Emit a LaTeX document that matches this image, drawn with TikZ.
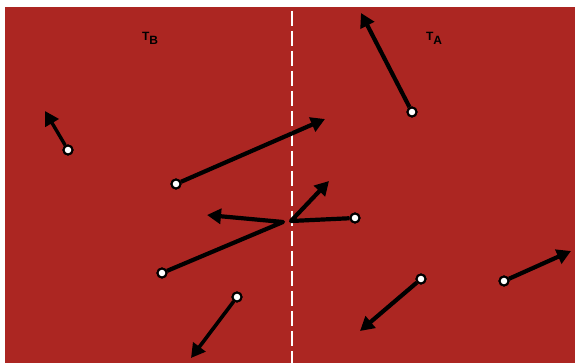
\documentclass[tikz,border=0pt]{standalone}
\usepackage{fontspec}
\setmainfont{Liberation Sans}
\usetikzlibrary{arrows.meta}
\definecolor{bgred}{RGB}{172,38,34}
\tikzset{
  dot/.style={circle,draw=black,fill=white,line width=2pt,inner sep=0pt,minimum size=9pt},
  arr/.style={line width=4.2pt,line join=round,-{Triangle[length=14pt,width=15pt]}},
  lbl/.style={font=\bfseries\fontsize{12}{14}\selectfont,text=black},
  divider/.style={white,line width=1.8pt,dash pattern=on 15pt off 5pt}
}
\begin{document}
\begin{tikzpicture}[x=1pt,y=-1pt]
\useasboundingbox (0,0) rectangle (575,363);
\fill[white] (0,0) rectangle (575,363);
\fill[bgred] (5,7) rectangle (575,363);
\draw[divider] (292,11) -- (292,363);
\node[lbl] (tb) at (150,38) {T\raisebox{-4pt}{B}};
\node[lbl] (ta) at (434,38) {T\raisebox{-4pt}{A}};
% circles
\node[dot] (c1) at (412,112) {};
\node[dot] (c2) at (68,150) {};
\node[dot] (c3) at (176,184) {};
\node[dot] (c4) at (162,273) {};
\node[dot] (c5) at (355,218) {};
\node[dot] (c6) at (237,297) {};
\node[dot] (c7) at (421,279) {};
\node[dot] (c8) at (504,281) {};
% tips
\coordinate (t1) at (361,13);
\coordinate (t2) at (45,111);
\coordinate (t3) at (325,119);
\coordinate (b4) at (283,222);
\coordinate (t4) at (207,215);
\coordinate (b5) at (291,221);
\coordinate (t5) at (329,181);
\coordinate (t6) at (191,358);
\coordinate (t7) at (360,331);
\coordinate (t8) at (571,251);
\draw[arr] (c1) -- (t1);
\draw[arr,line width=3.4pt] (c2) -- (t2);
\draw[arr] (c3) -- (t3);
\draw[arr] (c4) -- (b4) -- (t4);
\draw[arr] (c5) -- (b5) -- (t5);
\draw[arr,line width=3.6pt] (c6) -- (t6);
\draw[arr] (c7) -- (t7);
\draw[arr] (c8) -- (t8);
\foreach \n in {c1,c2,c3,c4,c5,c6,c7,c8} \node[dot] at (\n) {};
\end{tikzpicture}
\end{document}
